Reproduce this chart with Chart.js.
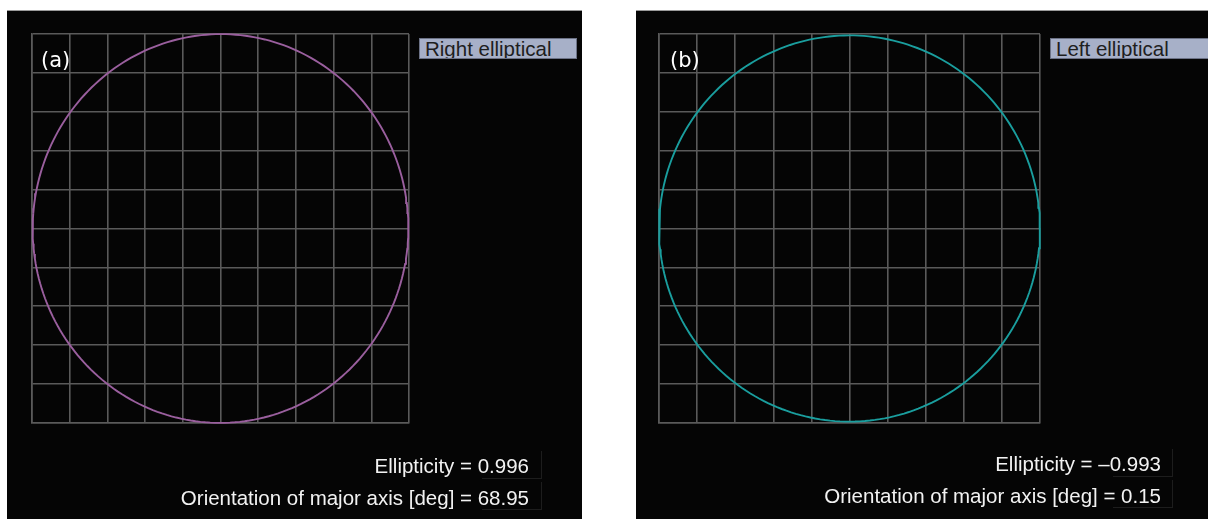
<!DOCTYPE html>
<html>
<head>
<meta charset="utf-8">
<script src="https://cdn.jsdelivr.net/npm/chart.js@4/dist/chart.umd.min.js"></script>
<style>
  html, body { margin: 0; padding: 0; background: #fff; }
  body { width: 1208px; height: 519px; position: relative; overflow: hidden; font-family: "Liberation Sans", Arial, sans-serif; }
  .panel { position: absolute; top: 10px; height: 509px; background: #050505; border-top: 1px solid #9a9a9a; }
  .panel canvas { position: absolute; left: 0; top: 0; }
  .tag { position: absolute; color: #fff; font-family: "DejaVu Sans", sans-serif; font-size: 21px; }
  .mode { position: absolute; height: 21px; line-height: 19px; background: #a7b0c8; border: 1px solid #6c7286; color: #1e1e1e; font-size: 20.5px; padding-left: 5px; box-sizing: border-box; overflow: hidden; white-space: nowrap; }
  .info { position: absolute; color: #f2f2f2; font-size: 20.5px; text-align: right; white-space: nowrap; }
  .vbox { position: absolute; width: 60px; height: 28px; border-right: 1px solid #1d1d1d; border-bottom: 1px solid #1d1d1d; box-sizing: border-box; }
</style>
</head>
<body>

<div class="panel" id="pa" style="left:7px;width:575px;">
  <canvas id="ca" width="575" height="509"></canvas>
  <div class="tag" style="left:34px;top:37px;">(a)</div>
  <div class="mode" style="left:412px;top:27px;width:158px;">Right elliptical</div>
  <div class="vbox" style="left:475px;top:440px;"></div>
  <div class="vbox" style="left:475px;top:471px;"></div>
  <div class="info" id="ea" style="right:53px;top:443px;"></div>
  <div class="info" id="oa" style="right:53px;top:475px;"></div>
</div>

<div class="panel" id="pb" style="left:636px;width:572px;">
  <canvas id="cb" width="572" height="509"></canvas>
  <div class="tag" style="left:34px;top:37px;">(b)</div>
  <div class="mode" style="left:414px;top:27px;width:160px;">Left elliptical</div>
  <div class="vbox" style="left:477px;top:438px;"></div>
  <div class="vbox" style="left:477px;top:469px;"></div>
  <div class="info" id="eb" style="right:47px;top:441px;"></div>
  <div class="info" id="ob" style="right:47px;top:473px;"></div>
</div>

<script>
// polarization state of each trace
var labels = ["(a)", "(b)"];
var ellipticity = [0.996, -0.993];
var orientation = [68.95, 0.15];   // degrees
var traceColors = ["#9a5f9e", "#1a9e9e"];

// the ellipse outline from its ellipticity and major-axis orientation
function ellipse(e, deg){
  var pts = [];
  var th = deg * Math.PI / 180, b = Math.abs(e);
  for(var i = 0; i <= 240; i++){
    var t = i / 240 * 2 * Math.PI;
    var x = Math.cos(th) * Math.cos(t) - b * Math.sin(th) * Math.sin(t);
    var y = Math.sin(th) * Math.cos(t) + b * Math.cos(th) * Math.sin(t);
    pts.push({ x: x, y: y });
  }
  return pts;
}

function axis(){
  return {
    min: -1, max: 1,
    ticks: { display: false, stepSize: 0.2 },
    grid: { color: "#5a5a5a", lineWidth: 1.6, drawTicks: false },
    border: { display: true, color: "#5a5a5a", width: 1.6 }
  };
}

function drawScope(id, idx, pad){
  new Chart(document.getElementById(id), {
    type: "scatter",
    data: {
      datasets: [{
        label: labels[idx],
        data: ellipse(ellipticity[idx], orientation[idx]),
        showLine: true,
        borderColor: traceColors[idx],
        borderWidth: 1.9,
        pointRadius: 0,
        tension: 0,
        clip: false
      }]
    },
    options: {
      responsive: false,
      animation: false,
      layout: { padding: pad },
      plugins: { legend: { display: false }, tooltip: { enabled: false } },
      scales: { x: axis(), y: axis() }
    }
  });
}

drawScope("ca", 0, { left: 25, top: 23, right: 173, bottom: 97 });
drawScope("cb", 1, { left: 23, top: 23, right: 168, bottom: 97 });

function fmtE(v){ return (v < 0 ? "\u2013" : "") + Math.abs(v).toFixed(3); }
document.getElementById("ea").textContent = "Ellipticity = " + fmtE(ellipticity[0]);
document.getElementById("eb").textContent = "Ellipticity = " + fmtE(ellipticity[1]);
document.getElementById("oa").textContent = "Orientation of major axis [deg] = " + orientation[0].toFixed(2);
document.getElementById("ob").textContent = "Orientation of major axis [deg] = " + orientation[1].toFixed(2);
</script>
</body>
</html>
